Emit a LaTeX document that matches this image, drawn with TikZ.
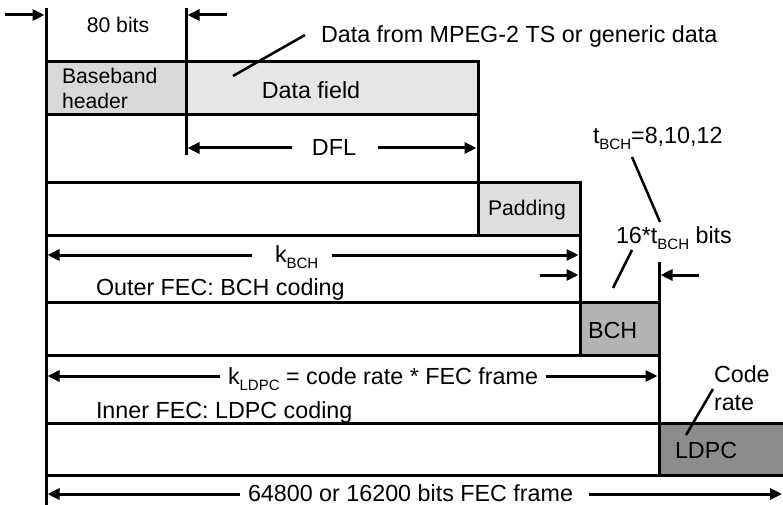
\documentclass[tikz,border=0pt]{standalone}
\usepackage{fontspec}
\setmainfont{Liberation Sans}
\usetikzlibrary{arrows.meta}
\definecolor{hdrc}{HTML}{D9D9D9}
\definecolor{datc}{HTML}{E6E6E6}
\definecolor{padc}{HTML}{DEDEDE}
\definecolor{bchc}{HTML}{B3B3B3}
\definecolor{ldpcc}{HTML}{8C8C8C}
\newcommand\mysub[1]{\raisebox{-6pt}{\fontsize{15}{15}\selectfont #1}}
\begin{document}
\begin{tikzpicture}[x=1pt,y=-1pt,
  ln/.style={line width=3pt},
  dimarrow/.style={line width=3pt,-{Triangle[length=12pt,width=11pt]}},
  lead/.style={line width=2.5pt},
  box/.style={draw,line width=3pt,rectangle,inner sep=0pt,outer sep=0pt,anchor=north west},
  txt/.style={font=\fontsize{23.3}{28}\selectfont,inner sep=0pt,outer sep=0pt},
  stxt/.style={font=\fontsize{21.2}{25}\selectfont,inner sep=0pt,outer sep=0pt},
]
\clip (0,0) rectangle (783,505);
% boxes
\node[box,fill=hdrc,minimum width=140pt,minimum height=53pt] (bbh) at (46,62) {};
\node[box,fill=datc,minimum width=292pt,minimum height=53pt] (df) at (186,62) {};
\node[box,fill=white,minimum width=432pt,minimum height=53pt] (r2) at (46,182) {};
\node[box,fill=padc,minimum width=102pt,minimum height=53pt] (pad) at (478,182) {};
\node[box,fill=white,minimum width=534pt,minimum height=53pt] (r3) at (46,302) {};
\node[box,fill=bchc,minimum width=79pt,minimum height=53pt] (bch) at (580,302) {};
\node[box,fill=white,minimum width=613pt,minimum height=52pt] (r4) at (46,423) {};
\node[box,fill=ldpcc,minimum width=140pt,minimum height=52pt] (ldpc) at (659,423) {};
% vertical guide lines
\coordinate (v0t) at (46,8); \coordinate (v0b) at (46,505);
\coordinate (v1t) at (186,8); \coordinate (v1b) at (186,155);
\coordinate (v4t) at (659,262);
\draw[ln] (v0t) -- (v0b);
\draw[ln] (v1t) -- (v1b);
\draw[ln] (df.south east) -- (pad.north west);
\draw[ln] (pad.south east) -- (bch.north west);
\draw[ln] (v4t) -- (bch.north east);
\draw[ln] (bch.south east) -- (ldpc.north west);
% texts
\node[stxt,anchor=base] (t80) at (118,33) {80 bits};
\node[txt,anchor=base west] (tdata) at (321,43) {Data from MPEG-2 TS or generic data};
\node[stxt,anchor=north west,align=left] (tbbh) at (62,68) {Baseband\\header};
\node[txt,anchor=base] (tdf) at (311,99) {Data field};
\node[txt,anchor=base] (tdfl) at (334,155) {DFL};
\node[txt,anchor=base west] (ttbch) at (593,143) {t\mysub{BCH}=8,10,12};
\node[stxt,anchor=base west] (tpad) at (488,215) {Padding};
\node[txt,anchor=base west] (tkbch) at (275,262) {k\mysub{BCH}};
\node[txt,anchor=base west] (t16) at (616,243) {16*t\mysub{BCH} bits};
\node[txt,anchor=base west] (touter) at (96,295) {Outer FEC: BCH coding};
\node[txt,anchor=base west] (tbch) at (588,338) {BCH};
\node[txt,anchor=base west] (tkldpc) at (228,384) {k\mysub{LDPC} = code rate * FEC frame};
\node[txt,anchor=base west] (tinner) at (96,418) {Inner FEC: LDPC coding};
\node[txt,anchor=north west,align=left] (tcr) at (714,366) {Code\\rate};
\node[txt,anchor=base west] (tldpc) at (675,458) {LDPC};
\node[txt,anchor=base west] (tfec) at (248,501) {64800 or 16200 bits FEC frame};
% dimension arrows
\coordinate (a1s) at (5,15);   \coordinate (a1e) at (44.5,15);
\coordinate (a2s) at (227,15); \coordinate (a2e) at (187.5,15);
\draw[dimarrow] (a1s) -- (a1e);
\draw[dimarrow] (a2s) -- (a2e);
\coordinate (d1s) at (292,148); \coordinate (d1e) at (187.5,148);
\coordinate (d2s) at (378,148); \coordinate (d2e) at (476.5,148);
\draw[dimarrow] (d1s) -- (d1e);
\draw[dimarrow] (d2s) -- (d2e);
\coordinate (k1s) at (252,255); \coordinate (k1e) at (47.5,255);
\coordinate (k2s) at (332,255); \coordinate (k2e) at (578.5,255);
\draw[dimarrow] (k1s) -- (k1e);
\draw[dimarrow] (k2s) -- (k2e);
\coordinate (s1s) at (540,275); \coordinate (s1e) at (578.5,275);
\coordinate (s2s) at (699,275); \coordinate (s2e) at (660.5,275);
\draw[dimarrow] (s1s) -- (s1e);
\draw[dimarrow] (s2s) -- (s2e);
\coordinate (l1s) at (220,376); \coordinate (l1e) at (47.5,376);
\coordinate (l2s) at (546,376); \coordinate (l2e) at (657.5,376);
\draw[dimarrow] (l1s) -- (l1e);
\draw[dimarrow] (l2s) -- (l2e);
\coordinate (f1s) at (240,494); \coordinate (f1e) at (47.5,494);
\coordinate (f2s) at (589,494); \coordinate (f2e) at (782,494);
\draw[dimarrow] (f1s) -- (f1e);
\draw[dimarrow] (f2s) -- (f2e);
% leader lines
\coordinate (ld1a) at (233,76);  \coordinate (ld1b) at (305,35);
\draw[lead] (ld1a) -- (ld1b);
\coordinate (ld2a) at (632,157); \coordinate (ld2b) at (660,222);
\draw[lead] (ld2a) -- (ld2b);
\coordinate (ld3a) at (613,288); \coordinate (ld3b) at (632,250);
\draw[lead] (ld3a) -- (ld3b);
\coordinate (ld4a) at (713,389); \coordinate (ld4b) at (686,435);
\draw[lead] (ld4a) -- (ld4b);
\end{tikzpicture}
\end{document}
